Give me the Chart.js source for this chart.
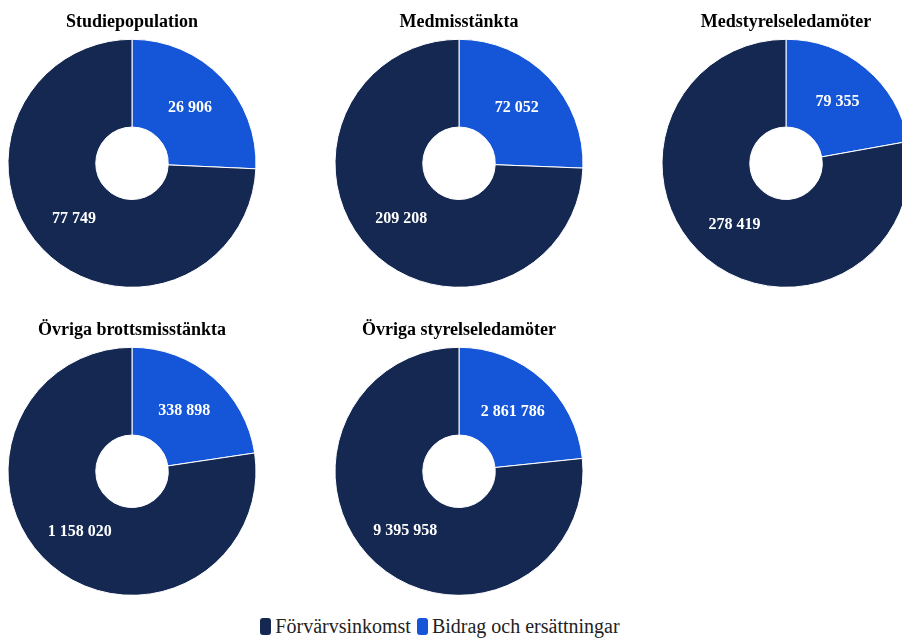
<!DOCTYPE html>
<html lang="sv">
<head>
  <meta charset="UTF-8">
  <title>Inkomstkällor per grupp</title>
  <script src="https://cdn.jsdelivr.net/npm/chart.js"></script>
  <style>
    body {
      margin: 0;
      width: 902px;
      height: 638px;
      overflow: hidden;
      background: #fff;
      font-family: "Liberation Serif", serif;
      position: relative;
    }

    .cell {
      position: absolute;
      width: 264px;
      height: 287px;
    }

    #legend {
      position: absolute;
      left: 0;
      width: 880px;
      top: 615px;
      text-align: center;
      font-size: 20px;
      color: #222;
    }

    #legend span.item {
      margin: 0 3px;
    }

    #legend i {
      display: inline-block;
      width: 11px;
      height: 17px;
      border-radius: 3px;
      vertical-align: -2px;
      margin-right: 4px;
    }
  </style>
</head>
<body>
  <div class="cell" style="left:0;top:0"><canvas id="c0"></canvas></div>
  <div class="cell" style="left:327px;top:0"><canvas id="c1"></canvas></div>
  <div class="cell" style="left:654px;top:0"><canvas id="c2"></canvas></div>
  <div class="cell" style="left:0;top:308px"><canvas id="c3"></canvas></div>
  <div class="cell" style="left:327px;top:308px"><canvas id="c4"></canvas></div>
  <div id="legend"></div>

  <script>
    const groups = ['Studiepopulation', 'Medmisstänkta', 'Medstyrelseledamöter', 'Övriga brottsmisstänkta', 'Övriga styrelseledamöter'];
    const categories = ['Förvärvsinkomst', 'Bidrag och ersättningar'];
    const forvarvsinkomst = [77749, 209208, 278419, 1158020, 9395958];
    const bidrag = [26906, 72052, 79355, 338898, 2861786];
    const colors = ['#142852', '#1556d8'];

    const fmt = v => v.toLocaleString('sv-SE').replace(/\s/g, ' ');

    // draw the value in the middle of each slice
    const sliceLabels = {
      id: 'sliceLabels',
      afterDatasetsDraw(chart) {
        const ctx = chart.ctx;
        const meta = chart.getDatasetMeta(0);
        ctx.save();
        ctx.font = 'bold 16px "Liberation Serif", serif';
        ctx.fillStyle = '#fff';
        ctx.textAlign = 'center';
        ctx.textBaseline = 'middle';
        meta.data.forEach((arc, i) => {
          const p = arc.tooltipPosition();
          ctx.fillText(fmt(chart.data.datasets[0].data[i]), p.x, p.y);
        });
        ctx.restore();
      }
    };

    groups.forEach((g, i) => {
      new Chart(document.getElementById('c' + i), {
        type: 'doughnut',
        data: {
          // blue slice starts at 12 o'clock
          labels: [categories[1], categories[0]],
          datasets: [{
            data: [bidrag[i], forvarvsinkomst[i]],
            backgroundColor: [colors[1], colors[0]],
            borderColor: '#fff',
            borderWidth: 1,
            hoverOffset: 0
          }]
        },
        options: {
          responsive: true,
          maintainAspectRatio: false,
          animation: false,
          radius: 124,
          cutout: 36,
          layout: { padding: 0 },
          plugins: {
            legend: { display: false },
            tooltip: { enabled: false },
            title: {
              display: true,
              text: g,
              color: '#000',
              font: { family: '"Liberation Serif", serif', size: 18, weight: 'bold' },
              padding: { top: 12, bottom: 6 }
            }
          }
        },
        plugins: [sliceLabels]
      });
    });

    const legend = document.getElementById('legend');
    categories.forEach((c, i) => {
      const s = document.createElement('span');
      s.className = 'item';
      s.innerHTML = '<i style="background:' + colors[i] + '"></i>' + c;
      legend.appendChild(s);
    });
  </script>
</body>
</html>
